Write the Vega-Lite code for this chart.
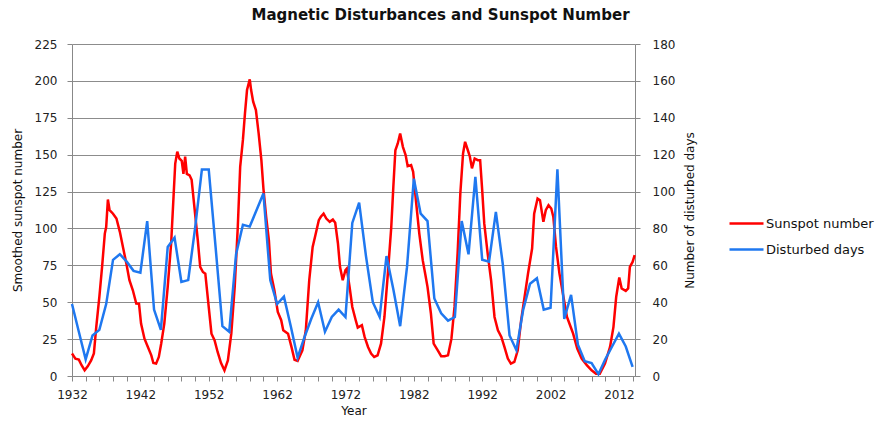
{
  "$schema": "https://vega.github.io/schema/vega-lite/v6.json",
  "width": 563,
  "height": 332,
  "autosize": {"type": "none"},
  "padding": {"left": 72, "top": 44, "right": 245, "bottom": 47},
  "background": "white",
  "title": {"text": "Magnetic Disturbances and Sunspot Number", "anchor": "middle", "frame": "group", "dx": 87, "offset": 15, "font": "DejaVu Sans", "fontSize": 15, "fontWeight": "bold", "color": "#111"},
  "config": {
    "view": {"stroke": null},
    "axis": {"labelFont": "DejaVu Sans", "labelFontSize": 12, "labelColor": "#222", "titleFont": "DejaVu Sans", "titleFontSize": 12, "titleFontWeight": "normal", "titleColor": "#111", "domainColor": "#888", "tickColor": "#888", "gridColor": "#8c8c8c", "tickSize": 5}
  },
  "datasets": {
    "sunspots": [
      {"year":1932.0,"value":15.2},{"year":1932.5,"value":11.8},{"year":1933.0,"value":11.1},{"year":1933.4,"value":7.3},{"year":1933.85,"value":3.9},{"year":1934.3,"value":6.6},{"year":1934.8,"value":10.6},{"year":1935.2,"value":15.2},{"year":1935.55,"value":33.3},{"year":1936.0,"value":53.6},{"year":1936.4,"value":74},{"year":1936.8,"value":96.5},{"year":1937.0,"value":101},{"year":1937.25,"value":119.6},{"year":1937.5,"value":112.4},{"year":1938.0,"value":110},{"year":1938.5,"value":106.7},{"year":1939.0,"value":97.7},{"year":1939.45,"value":87.5},{"year":1939.95,"value":76.2},{"year":1940.4,"value":64.9},{"year":1940.9,"value":58.1},{"year":1941.4,"value":49.1},{"year":1941.8,"value":49},{"year":1942.1,"value":35.5},{"year":1942.6,"value":25.3},{"year":1943.1,"value":19.7},{"year":1943.6,"value":14},{"year":1943.9,"value":8.8},{"year":1944.3,"value":8.4},{"year":1944.7,"value":12.9},{"year":1945.05,"value":22},{"year":1945.5,"value":35.5},{"year":1946.0,"value":60.4},{"year":1946.5,"value":89.8},{"year":1946.85,"value":121.4},{"year":1947.1,"value":144},{"year":1947.4,"value":152},{"year":1947.7,"value":147.4},{"year":1948.05,"value":145.8},{"year":1948.3,"value":137},{"year":1948.55,"value":148.6},{"year":1948.8,"value":137},{"year":1949.2,"value":136},{"year":1949.5,"value":133},{"year":1949.9,"value":114.6},{"year":1950.4,"value":92},{"year":1950.75,"value":74},{"year":1951.15,"value":70.5},{"year":1951.5,"value":69.4},{"year":1951.9,"value":51.3},{"year":1952.4,"value":28.7},{"year":1952.85,"value":24.2},{"year":1953.3,"value":16.3},{"year":1953.8,"value":8.8},{"year":1954.3,"value":3.8},{"year":1954.8,"value":10.6},{"year":1955.3,"value":28.7},{"year":1955.8,"value":60.4},{"year":1956.25,"value":101},{"year":1956.6,"value":141.8},{"year":1957.0,"value":160},{"year":1957.3,"value":178},{"year":1957.6,"value":193.8},{"year":1958.0,"value":201},{"year":1958.2,"value":193.8},{"year":1958.5,"value":185.9},{"year":1958.9,"value":180.2},{"year":1959.3,"value":164.4},{"year":1959.7,"value":146.3},{"year":1960.0,"value":127},{"year":1960.4,"value":107.9},{"year":1960.8,"value":92},{"year":1961.1,"value":69.4},{"year":1961.6,"value":58.1},{"year":1962.1,"value":43.4},{"year":1962.6,"value":37.8},{"year":1962.9,"value":31},{"year":1963.6,"value":28.7},{"year":1964.1,"value":19.7},{"year":1964.55,"value":11},{"year":1965.0,"value":10.2},{"year":1965.7,"value":17.4},{"year":1966.2,"value":31},{"year":1966.7,"value":64.9},{"year":1967.2,"value":87.5},{"year":1967.6,"value":95.4},{"year":1968.1,"value":105.6},{"year":1968.4,"value":107.9},{"year":1968.8,"value":110},{"year":1969.2,"value":106.7},{"year":1969.7,"value":104.5},{"year":1970.15,"value":106},{"year":1970.5,"value":103.8},{"year":1970.9,"value":89.8},{"year":1971.2,"value":74},{"year":1971.6,"value":64.9},{"year":1972.0,"value":71.7},{"year":1972.2,"value":72.8},{"year":1972.6,"value":60.4},{"year":1973.0,"value":46.8},{"year":1973.5,"value":37.8},{"year":1973.8,"value":32.8},{"year":1974.4,"value":34.4},{"year":1974.8,"value":26.5},{"year":1975.3,"value":19.7},{"year":1975.75,"value":15.2},{"year":1976.2,"value":12.9},{"year":1976.7,"value":14},{"year":1977.2,"value":21.9},{"year":1977.7,"value":40},{"year":1978.2,"value":69.4},{"year":1978.7,"value":101},{"year":1979.0,"value":128},{"year":1979.3,"value":153},{"year":1979.65,"value":157.6},{"year":1980.0,"value":164.4},{"year":1980.4,"value":155.3},{"year":1980.8,"value":149.7},{"year":1981.1,"value":142.2},{"year":1981.6,"value":142.9},{"year":1981.9,"value":138.4},{"year":1982.3,"value":119.2},{"year":1982.8,"value":96.5},{"year":1983.3,"value":78.5},{"year":1983.7,"value":68.3},{"year":1984.0,"value":60.4},{"year":1984.5,"value":42.3},{"year":1984.9,"value":21.9},{"year":1985.5,"value":17.4},{"year":1986.0,"value":13.4},{"year":1986.5,"value":13.4},{"year":1987.0,"value":14},{"year":1987.5,"value":25.3},{"year":1987.95,"value":46.8},{"year":1988.4,"value":83},{"year":1988.8,"value":123.7},{"year":1989.2,"value":150.8},{"year":1989.5,"value":158.7},{"year":1989.9,"value":153},{"year":1990.2,"value":148.6},{"year":1990.5,"value":140.7},{"year":1990.9,"value":147.4},{"year":1991.35,"value":146.3},{"year":1991.7,"value":146.3},{"year":1992.0,"value":126},{"year":1992.3,"value":103.4},{"year":1992.8,"value":83},{"year":1993.3,"value":64.9},{"year":1993.8,"value":40},{"year":1994.3,"value":31},{"year":1994.8,"value":26.5},{"year":1995.25,"value":19.7},{"year":1995.75,"value":11.8},{"year":1996.2,"value":8.4},{"year":1996.7,"value":9.5},{"year":1997.2,"value":17.4},{"year":1997.7,"value":37.8},{"year":1998.2,"value":53.6},{"year":1998.7,"value":69.4},{"year":1999.3,"value":86.4},{"year":1999.6,"value":110},{"year":2000.1,"value":120.3},{"year":2000.45,"value":119.2},{"year":2000.95,"value":104.5},{"year":2001.3,"value":112.4},{"year":2001.7,"value":115.8},{"year":2002.1,"value":113.5},{"year":2002.4,"value":108},{"year":2002.8,"value":87.5},{"year":2003.3,"value":69.4},{"year":2003.8,"value":55.8},{"year":2004.4,"value":40},{"year":2004.85,"value":34.4},{"year":2005.3,"value":28.7},{"year":2005.9,"value":18.6},{"year":2006.55,"value":11.8},{"year":2007.3,"value":7.3},{"year":2008.0,"value":3.9},{"year":2008.65,"value":1.6},{"year":2009.2,"value":1.6},{"year":2009.96,"value":8.4},{"year":2010.7,"value":19.7},{"year":2011.2,"value":33.3},{"year":2011.6,"value":53.6},{"year":2012.05,"value":66.8},{"year":2012.4,"value":59.3},{"year":2013.0,"value":57.7},{"year":2013.35,"value":59.3},{"year":2013.6,"value":73.9},{"year":2014.0,"value":77.3},{"year":2014.3,"value":81.9}
    ],
    "disturbed": [
      {"year":1932,"days":39},{"year":1933,"days":24},{"year":1934,"days":9},{"year":1935,"days":22},{"year":1936,"days":25},{"year":1937,"days":39},{"year":1938,"days":63},{"year":1939,"days":66},{"year":1940,"days":62},{"year":1941,"days":57},{"year":1942,"days":56},{"year":1943,"days":84},{"year":1944,"days":36},{"year":1945,"days":25},{"year":1946,"days":70},{"year":1947,"days":75},{"year":1948,"days":51},{"year":1949,"days":52},{"year":1950,"days":80},{"year":1951,"days":112},{"year":1952,"days":112},{"year":1953,"days":70},{"year":1954,"days":27},{"year":1955,"days":24},{"year":1956,"days":66},{"year":1957,"days":82},{"year":1958,"days":81},{"year":1959,"days":90},{"year":1960,"days":99},{"year":1961,"days":52},{"year":1962,"days":39},{"year":1963,"days":43},{"year":1964,"days":27},{"year":1965,"days":10},{"year":1966,"days":21},{"year":1967,"days":31},{"year":1968,"days":40},{"year":1969,"days":24},{"year":1970,"days":32},{"year":1971,"days":36},{"year":1972,"days":32},{"year":1973,"days":83},{"year":1974,"days":94},{"year":1975,"days":65},{"year":1976,"days":40},{"year":1977,"days":32},{"year":1978,"days":65},{"year":1979,"days":47},{"year":1980,"days":27},{"year":1981,"days":59},{"year":1982,"days":107},{"year":1983,"days":88},{"year":1984,"days":84},{"year":1985,"days":42},{"year":1986,"days":34},{"year":1987,"days":30},{"year":1988,"days":32},{"year":1989,"days":84},{"year":1990,"days":66},{"year":1991,"days":108},{"year":1992,"days":63},{"year":1993,"days":62},{"year":1994,"days":89},{"year":1995,"days":61},{"year":1996,"days":22},{"year":1997,"days":14},{"year":1998,"days":36},{"year":1999,"days":50},{"year":2000,"days":53},{"year":2001,"days":36},{"year":2002,"days":37},{"year":2003,"days":112},{"year":2004,"days":31},{"year":2005,"days":44},{"year":2006,"days":17},{"year":2007,"days":8},{"year":2008,"days":7},{"year":2009,"days":1},{"year":2010,"days":9},{"year":2011,"days":16},{"year":2012,"days":23},{"year":2013,"days":16},{"year":2014,"days":5}
    ]
  },
  "encoding": {
    "x": {
      "field": "year", "type": "quantitative",
      "scale": {"domain": [1932, 2014.35], "nice": false, "zero": false},
      "axis": {
        "title": "Year", "grid": false, "labelFlush": false, "labelOverlap": false, "format": "d",
        "values": [1932,1934,1936,1938,1940,1942,1944,1946,1948,1950,1952,1954,1956,1958,1960,1962,1964,1966,1968,1970,1972,1974,1976,1978,1980,1982,1984,1986,1988,1990,1992,1994,1996,1998,2000,2002,2004,2006,2008,2010,2012,2014],
        "labelExpr": "(datum.value - 1932) % 10 === 0 ? datum.label : ''",
        "labelPadding": 8, "titlePadding": 5
      }
    }
  },
  "layer": [
    {
      "data": {"name": "sunspots"},
      "mark": {"type": "line", "strokeWidth": 2.5, "interpolate": "linear"},
      "encoding": {
        "y": {"field": "value", "type": "quantitative", "scale": {"domain": [0, 225], "nice": false},
          "axis": {"title": "Smoothed sunspot number", "values": [0,25,50,75,100,125,150,175,200,225], "grid": true, "labelPadding": 10, "titlePadding": 10}},
        "color": {"datum": "Sunspot number", "type": "nominal",
          "scale": {"domain": ["Sunspot number", "Disturbed days"], "range": ["#ff0000", "#1f78f0"]},
          "legend": {"title": null, "orient": "none", "legendX": 656, "legendY": 161, "symbolType": "stroke", "symbolSize": 1156, "symbolStrokeWidth": 2.5, "labelFont": "DejaVu Sans", "labelFontSize": 13, "labelColor": "#111", "rowPadding": -8, "labelOffset": 1}}
      }
    },
    {
      "data": {"name": "disturbed"},
      "mark": {"type": "line", "strokeWidth": 2.5},
      "encoding": {
        "y": {"field": "days", "type": "quantitative", "scale": {"domain": [0, 180], "nice": false},
          "axis": {"title": "Number of disturbed days", "orient": "right", "titleAngle": -90, "titleBaseline": "bottom", "values": [0,20,40,60,80,100,120,140,160,180], "grid": false, "labelPadding": 12, "titlePadding": 22}},
        "color": {"datum": "Disturbed days", "type": "nominal"}
      }
    }
  ],
  "resolve": {"scale": {"y": "independent"}}
}
